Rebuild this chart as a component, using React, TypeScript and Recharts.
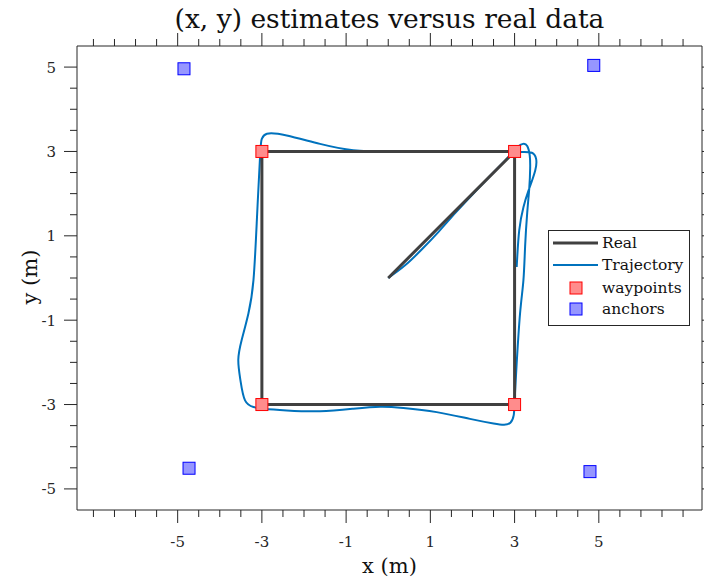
import React from 'react';
import { ScatterChart, Scatter, XAxis, YAxis, Legend, Customized } from 'recharts';

const xTicks = [-7, -6.5, -6, -5.5, -5, -4.5, -4, -3.5, -3, -2.5, -2, -1.5, -1, -0.5, 0, 0.5, 1, 1.5, 2, 2.5, 3, 3.5, 4, 4.5, 5, 5.5, 6, 6.5, 7];
const yTicks = [-5, -4.5, -4, -3.5, -3, -2.5, -2, -1.5, -1, -0.5, 0, 0.5, 1, 1.5, 2, 2.5, 3, 3.5, 4, 4.5, 5];
const labelledTicks = [-5, -3, -1, 1, 3, 5];

const realPath = [
  { x: 0, y: 0 }, { x: 3, y: 3 }, { x: 3, y: -3 }, { x: -3, y: -3 },
  { x: -3, y: 3 }, { x: 3, y: 3 }, { x: 3, y: 0 },
];

const trajectory = [
  { x: 0, y: 0 }, { x: 0.4, y: 0.3 }, { x: 0.8, y: 0.68 }, { x: 1.2, y: 1.1 },
  { x: 1.6, y: 1.55 }, { x: 2.0, y: 1.98 }, { x: 2.4, y: 2.4 }, { x: 2.75, y: 2.76 },
  { x: 3.0, y: 3.02 }, { x: 3.1, y: 3.13 }, { x: 3.2, y: 3.18 }, { x: 3.3, y: 3.13 },
  { x: 3.36, y: 2.9 }, { x: 3.37, y: 2.6 }, { x: 3.35, y: 2.15 }, { x: 3.3, y: 1.55 },
  { x: 3.25, y: 0.75 }, { x: 3.21, y: -0.05 }, { x: 3.13, y: -0.84 }, { x: 3.05, y: -2.02 },
  { x: 3.0, y: -2.9 }, { x: 2.98, y: -3.25 }, { x: 2.9, y: -3.43 }, { x: 2.75, y: -3.48 },
  { x: 2.5, y: -3.45 }, { x: 1.94, y: -3.34 }, { x: 1.15, y: -3.18 }, { x: 0.36, y: -3.08 },
  { x: -0.19, y: -3.05 }, { x: -0.83, y: -3.1 }, { x: -1.62, y: -3.16 }, { x: -2.41, y: -3.14 },
  { x: -2.96, y: -3.1 }, { x: -3.2, y: -3.06 }, { x: -3.4, y: -2.9 }, { x: -3.51, y: -2.42 },
  { x: -3.56, y: -1.94 }, { x: -3.48, y: -1.47 }, { x: -3.32, y: -0.84 }, { x: -3.2, y: -0.05 },
  { x: -3.12, y: 1.36 }, { x: -3.04, y: 2.95 }, { x: -3.0, y: 3.3 }, { x: -2.88, y: 3.42 },
  { x: -2.41, y: 3.38 }, { x: -1.62, y: 3.18 }, { x: -0.83, y: 3.03 }, { x: 0, y: 3.0 },
  { x: 1, y: 3.0 }, { x: 2, y: 2.99 }, { x: 2.6, y: 3.0 }, { x: 3.0, y: 3.0 },
  { x: 3.2, y: 2.99 }, { x: 3.41, y: 2.97 }, { x: 3.51, y: 2.83 }, { x: 3.49, y: 2.55 },
  { x: 3.33, y: 2.07 }, { x: 3.21, y: 1.68 }, { x: 3.11, y: 1.13 }, { x: 3.05, y: 0.26 },
];

const waypoints = [{ x: -3, y: 3 }, { x: 3, y: 3 }, { x: -3, y: -3 }, { x: 3, y: -3 }];
const anchors = [{ x: -4.85, y: 4.96 }, { x: 4.88, y: 5.04 }, { x: -4.73, y: -4.51 }, { x: 4.79, y: -4.59 }];

const AXIS = '#262626';
const FONT = "'DejaVu Serif', serif";
const REAL = '#404040';
const TRAJ = '#0072BD';
const WP_FILL = '#ff8c8c';
const WP_STROKE = '#ff0000';
const AN_FILL = '#9696ff';
const AN_STROKE = '#0000ff';

const isMajor = (v: number) => labelledTicks.includes(v);
const tickLen = (v: number) => (isMajor(v) ? 13 : 7);

const BottomTick = (props: any) => {
  const { x, y, payload } = props;
  const v = payload.value;
  return (
    <g>
      <line x1={x} x2={x} y1={y} y2={y + tickLen(v)} stroke={AXIS} strokeWidth={1} />
      {isMajor(v) && (
        <text x={x} y={y + 37} textAnchor="middle" fontFamily={FONT} fontSize={15} fill="#262626">{`${v}`}</text>
      )}
    </g>
  );
};
const TopTick = (props: any) => {
  const { x, y, payload } = props;
  const v = payload.value;
  return <line x1={x} x2={x} y1={y} y2={y - tickLen(v)} stroke={AXIS} strokeWidth={1} />;
};
const LeftTick = (props: any) => {
  const { x, y, payload } = props;
  const v = payload.value;
  return (
    <g>
      <line x1={x} x2={x - tickLen(v)} y1={y} y2={y} stroke={AXIS} strokeWidth={1} />
      {isMajor(v) && (
        <text x={x - 21} y={y + 5.5} textAnchor="end" fontFamily={FONT} fontSize={15} fill="#262626">{`${v}`}</text>
      )}
    </g>
  );
};
const RightTick = (props: any) => {
  const { x, y, payload } = props;
  const v = payload.value;
  return <line x1={x} x2={x + tickLen(v)} y1={y} y2={y} stroke={AXIS} strokeWidth={1} />;
};

const Square = (fill: string, stroke: string) => (props: any) => {
  const { cx, cy } = props;
  return <rect x={cx - 6} y={cy - 6} width={12} height={12} fill={fill} stroke={stroke} strokeWidth={1} />;
};
const NoShape = () => <g />;

const LegendBox = () => (
  <svg width={142} height={96} style={{ display: 'block' }}>
    <rect x={0.5} y={0.5} width={141} height={95} fill="#ffffff" stroke={AXIS} strokeWidth={1} />
    <line x1={5} x2={50} y1={13} y2={13} stroke={REAL} strokeWidth={3} />
    <text x={54} y={18} fontFamily={FONT} fontSize={15.5} fill="#111">Real</text>
    <line x1={5} x2={50} y1={35} y2={35} stroke={TRAJ} strokeWidth={2} />
    <text x={54} y={40} fontFamily={FONT} fontSize={15.5} fill="#111">Trajectory</text>
    <rect x={22} y={52} width={12} height={12} fill={WP_FILL} stroke={WP_STROKE} />
    <text x={54} y={63} fontFamily={FONT} fontSize={15.5} fill="#111">waypoints</text>
    <rect x={22} y={73} width={12} height={12} fill={AN_FILL} stroke={AN_STROKE} />
    <text x={54} y={84} fontFamily={FONT} fontSize={15.5} fill="#111">anchors</text>
  </svg>
);

const Texts = () => (
  <g fontFamily={FONT} fill="#111">
    <text x={389.5} y={28} textAnchor="middle" fontSize={26.5}>(x, y) estimates versus real data</text>
    <text x={389.5} y={573} textAnchor="middle" fontSize={21}>x (m)</text>
    <text x={37} y={277} textAnchor="middle" fontSize={21} transform="rotate(-90 37 277)">y (m)</text>
  </g>
);

export default function App() {
  return (
    <div style={{ position: 'absolute', left: 0, top: 0, background: '#ffffff' }}>
      <ScatterChart width={704} height={581} margin={{ top: 0, right: 0, bottom: 0, left: 0 }}>
        <XAxis type="number" dataKey="x" domain={[-7.39, 7.45]} ticks={xTicks} interval={0}
          tickSize={0} tickMargin={0} tickLine={false} tick={<BottomTick />} height={71}
          axisLine={{ stroke: AXIS }} allowDataOverflow />
        <XAxis xAxisId="top" orientation="top" type="number" dataKey="x" domain={[-7.39, 7.45]} ticks={xTicks} interval={0}
          tickSize={0} tickMargin={0} tickLine={false} tick={<TopTick />} height={46}
          axisLine={{ stroke: AXIS }} allowDataOverflow />
        <YAxis type="number" dataKey="y" domain={[-5.5, 5.5]} ticks={yTicks} interval={0}
          tickSize={0} tickMargin={0} tickLine={false} tick={<LeftTick />} width={77}
          axisLine={{ stroke: AXIS }} allowDataOverflow />
        <YAxis yAxisId="right" orientation="right" type="number" dataKey="y" domain={[-5.5, 5.5]} ticks={yTicks} interval={0}
          tickSize={0} tickMargin={0} tickLine={false} tick={<RightTick />} width={2}
          axisLine={{ stroke: AXIS }} allowDataOverflow />
        <Scatter name="Trajectory" data={trajectory} line={{ stroke: TRAJ, strokeWidth: 2 }} lineJointType="natural"
          shape={<NoShape />} fill={TRAJ} isAnimationActive={false} />
        <Scatter name="Real" data={realPath} line={{ stroke: REAL, strokeWidth: 3 }} lineJointType="linear"
          shape={<NoShape />} fill={REAL} isAnimationActive={false} />
        <Scatter name="waypoints" data={waypoints} shape={Square(WP_FILL, WP_STROKE)} fill={WP_FILL} isAnimationActive={false} />
        <Scatter name="anchors" data={anchors} shape={Square(AN_FILL, AN_STROKE)} fill={AN_FILL} isAnimationActive={false} />
        <Legend layout="vertical" align="center" verticalAlign="middle"
          wrapperStyle={{ position: 'absolute', left: 548, top: 230, width: 142, height: 96 }}
          content={() => <LegendBox />} />
        <Customized component={<Texts />} />
      </ScatterChart>
    </div>
  );
}
